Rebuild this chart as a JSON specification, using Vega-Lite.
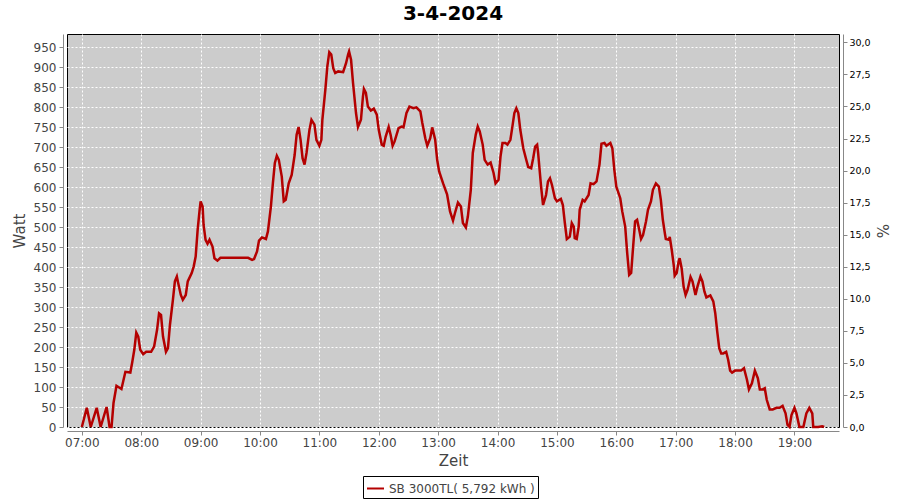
{
  "$schema": "https://vega.github.io/schema/vega-lite/v6.json",
  "autosize": "none",
  "width": 772,
  "height": 393,
  "padding": {"left": 67, "top": 34, "right": 61, "bottom": 73},
  "background": "#ffffff",
  "title": {"text": "3-4-2024", "font": "DejaVu Sans", "fontSize": 20, "fontWeight": "bold", "color": "#000000", "offset": 10, "anchor": "middle"},
  "config": {
    "locale": {"number": {"decimal": ",", "thousands": ".", "grouping": [3], "currency": ["", " €"]}},
    "view": {"stroke": "#000000", "strokeWidth": 1, "fill": "#cccccc"},
    "font": "DejaVu Sans",
    "axis": {"domainColor": "#888888", "tickColor": "#888888", "tickSize": 4, "labelColor": "#444444", "labelFont": "DejaVu Sans", "labelFontSize": 12, "titleFont": "DejaVu Sans", "titleFontSize": 15, "titleFontWeight": "normal", "titleColor": "#444444", "gridColor": "#ffffff", "gridDash": [2, 2], "gridWidth": 1, "gridOpacity": 1}
  },
  "layer": [
    {
      "data": {"values": [
        {"t": "2024-04-03T07:00:00", "w": 0},
        {"t": "2024-04-03T07:05:00", "w": 48},
        {"t": "2024-04-03T07:09:00", "w": 0},
        {"t": "2024-04-03T07:15:00", "w": 48},
        {"t": "2024-04-03T07:19:00", "w": 0},
        {"t": "2024-04-03T07:25:00", "w": 50},
        {"t": "2024-04-03T07:28:00", "w": 0},
        {"t": "2024-04-03T07:30:00", "w": 0},
        {"t": "2024-04-03T07:32:00", "w": 60},
        {"t": "2024-04-03T07:35:00", "w": 103},
        {"t": "2024-04-03T07:40:00", "w": 95},
        {"t": "2024-04-03T07:44:00", "w": 138},
        {"t": "2024-04-03T07:49:00", "w": 136},
        {"t": "2024-04-03T07:51:00", "w": 163},
        {"t": "2024-04-03T07:53:00", "w": 193},
        {"t": "2024-04-03T07:55:00", "w": 236},
        {"t": "2024-04-03T07:57:00", "w": 226},
        {"t": "2024-04-03T07:59:00", "w": 193},
        {"t": "2024-04-03T08:02:00", "w": 182},
        {"t": "2024-04-03T08:05:00", "w": 188},
        {"t": "2024-04-03T08:10:00", "w": 188},
        {"t": "2024-04-03T08:13:00", "w": 201},
        {"t": "2024-04-03T08:16:00", "w": 243},
        {"t": "2024-04-03T08:18:00", "w": 284},
        {"t": "2024-04-03T08:20:00", "w": 280},
        {"t": "2024-04-03T08:22:00", "w": 226},
        {"t": "2024-04-03T08:25:00", "w": 188},
        {"t": "2024-04-03T08:27:00", "w": 197},
        {"t": "2024-04-03T08:29:00", "w": 255},
        {"t": "2024-04-03T08:32:00", "w": 318},
        {"t": "2024-04-03T08:34:00", "w": 364},
        {"t": "2024-04-03T08:36:00", "w": 376},
        {"t": "2024-04-03T08:37:00", "w": 364},
        {"t": "2024-04-03T08:40:00", "w": 330},
        {"t": "2024-04-03T08:42:00", "w": 318},
        {"t": "2024-04-03T08:45:00", "w": 330},
        {"t": "2024-04-03T08:47:00", "w": 364},
        {"t": "2024-04-03T08:51:00", "w": 385},
        {"t": "2024-04-03T08:53:00", "w": 401},
        {"t": "2024-04-03T08:55:00", "w": 426},
        {"t": "2024-04-03T08:57:00", "w": 493},
        {"t": "2024-04-03T08:59:00", "w": 543},
        {"t": "2024-04-03T09:00:00", "w": 564},
        {"t": "2024-04-03T09:02:00", "w": 551},
        {"t": "2024-04-03T09:03:00", "w": 505},
        {"t": "2024-04-03T09:05:00", "w": 468},
        {"t": "2024-04-03T09:07:00", "w": 458},
        {"t": "2024-04-03T09:09:00", "w": 468},
        {"t": "2024-04-03T09:12:00", "w": 451},
        {"t": "2024-04-03T09:14:00", "w": 422},
        {"t": "2024-04-03T09:17:00", "w": 416},
        {"t": "2024-04-03T09:20:00", "w": 423},
        {"t": "2024-04-03T09:30:00", "w": 423},
        {"t": "2024-04-03T09:40:00", "w": 423},
        {"t": "2024-04-03T09:48:00", "w": 423},
        {"t": "2024-04-03T09:52:00", "w": 418},
        {"t": "2024-04-03T09:54:00", "w": 420},
        {"t": "2024-04-03T09:57:00", "w": 439},
        {"t": "2024-04-03T09:59:00", "w": 466},
        {"t": "2024-04-03T10:02:00", "w": 474},
        {"t": "2024-04-03T10:06:00", "w": 470},
        {"t": "2024-04-03T10:08:00", "w": 489},
        {"t": "2024-04-03T10:11:00", "w": 551},
        {"t": "2024-04-03T10:13:00", "w": 609},
        {"t": "2024-04-03T10:15:00", "w": 660},
        {"t": "2024-04-03T10:17:00", "w": 678},
        {"t": "2024-04-03T10:19:00", "w": 668},
        {"t": "2024-04-03T10:22:00", "w": 626},
        {"t": "2024-04-03T10:24:00", "w": 564},
        {"t": "2024-04-03T10:26:00", "w": 568},
        {"t": "2024-04-03T10:29:00", "w": 609},
        {"t": "2024-04-03T10:32:00", "w": 630},
        {"t": "2024-04-03T10:35:00", "w": 680},
        {"t": "2024-04-03T10:37:00", "w": 731},
        {"t": "2024-04-03T10:39:00", "w": 750},
        {"t": "2024-04-03T10:41:00", "w": 718},
        {"t": "2024-04-03T10:43:00", "w": 672},
        {"t": "2024-04-03T10:45:00", "w": 656},
        {"t": "2024-04-03T10:47:00", "w": 685},
        {"t": "2024-04-03T10:50:00", "w": 743},
        {"t": "2024-04-03T10:52:00", "w": 768},
        {"t": "2024-04-03T10:55:00", "w": 756},
        {"t": "2024-04-03T10:57:00", "w": 718},
        {"t": "2024-04-03T11:00:00", "w": 703},
        {"t": "2024-04-03T11:02:00", "w": 718},
        {"t": "2024-04-03T11:03:00", "w": 768},
        {"t": "2024-04-03T11:06:00", "w": 843},
        {"t": "2024-04-03T11:08:00", "w": 901},
        {"t": "2024-04-03T11:10:00", "w": 937},
        {"t": "2024-04-03T11:12:00", "w": 931},
        {"t": "2024-04-03T11:14:00", "w": 897},
        {"t": "2024-04-03T11:16:00", "w": 885},
        {"t": "2024-04-03T11:19:00", "w": 889},
        {"t": "2024-04-03T11:24:00", "w": 887},
        {"t": "2024-04-03T11:27:00", "w": 910},
        {"t": "2024-04-03T11:29:00", "w": 931},
        {"t": "2024-04-03T11:30:00", "w": 939},
        {"t": "2024-04-03T11:32:00", "w": 918},
        {"t": "2024-04-03T11:34:00", "w": 860},
        {"t": "2024-04-03T11:37:00", "w": 785},
        {"t": "2024-04-03T11:39:00", "w": 750},
        {"t": "2024-04-03T11:42:00", "w": 768},
        {"t": "2024-04-03T11:44:00", "w": 826},
        {"t": "2024-04-03T11:45:00", "w": 845},
        {"t": "2024-04-03T11:47:00", "w": 835},
        {"t": "2024-04-03T11:49:00", "w": 801},
        {"t": "2024-04-03T11:52:00", "w": 791},
        {"t": "2024-04-03T11:55:00", "w": 796},
        {"t": "2024-04-03T11:58:00", "w": 781},
        {"t": "2024-04-03T12:00:00", "w": 743},
        {"t": "2024-04-03T12:03:00", "w": 706},
        {"t": "2024-04-03T12:05:00", "w": 703},
        {"t": "2024-04-03T12:07:00", "w": 726},
        {"t": "2024-04-03T12:10:00", "w": 750},
        {"t": "2024-04-03T12:12:00", "w": 730},
        {"t": "2024-04-03T12:14:00", "w": 703},
        {"t": "2024-04-03T12:16:00", "w": 714},
        {"t": "2024-04-03T12:20:00", "w": 747},
        {"t": "2024-04-03T12:23:00", "w": 751},
        {"t": "2024-04-03T12:25:00", "w": 749},
        {"t": "2024-04-03T12:28:00", "w": 785},
        {"t": "2024-04-03T12:31:00", "w": 801},
        {"t": "2024-04-03T12:35:00", "w": 797},
        {"t": "2024-04-03T12:38:00", "w": 799},
        {"t": "2024-04-03T12:42:00", "w": 789},
        {"t": "2024-04-03T12:44:00", "w": 760},
        {"t": "2024-04-03T12:47:00", "w": 722},
        {"t": "2024-04-03T12:49:00", "w": 703},
        {"t": "2024-04-03T12:52:00", "w": 722},
        {"t": "2024-04-03T12:54:00", "w": 749},
        {"t": "2024-04-03T12:57:00", "w": 718},
        {"t": "2024-04-03T12:59:00", "w": 668},
        {"t": "2024-04-03T13:01:00", "w": 639},
        {"t": "2024-04-03T13:05:00", "w": 609},
        {"t": "2024-04-03T13:09:00", "w": 582},
        {"t": "2024-04-03T13:12:00", "w": 539},
        {"t": "2024-04-03T13:15:00", "w": 516},
        {"t": "2024-04-03T13:17:00", "w": 535},
        {"t": "2024-04-03T13:20:00", "w": 561},
        {"t": "2024-04-03T13:23:00", "w": 551},
        {"t": "2024-04-03T13:25:00", "w": 510},
        {"t": "2024-04-03T13:28:00", "w": 499},
        {"t": "2024-04-03T13:30:00", "w": 526},
        {"t": "2024-04-03T13:33:00", "w": 593},
        {"t": "2024-04-03T13:35:00", "w": 685},
        {"t": "2024-04-03T13:38:00", "w": 731},
        {"t": "2024-04-03T13:40:00", "w": 751},
        {"t": "2024-04-03T13:42:00", "w": 739},
        {"t": "2024-04-03T13:45:00", "w": 706},
        {"t": "2024-04-03T13:47:00", "w": 668},
        {"t": "2024-04-03T13:50:00", "w": 656},
        {"t": "2024-04-03T13:53:00", "w": 661},
        {"t": "2024-04-03T13:56:00", "w": 635},
        {"t": "2024-04-03T13:58:00", "w": 609},
        {"t": "2024-04-03T14:01:00", "w": 618},
        {"t": "2024-04-03T14:03:00", "w": 676},
        {"t": "2024-04-03T14:05:00", "w": 710},
        {"t": "2024-04-03T14:08:00", "w": 710},
        {"t": "2024-04-03T14:10:00", "w": 706},
        {"t": "2024-04-03T14:13:00", "w": 718},
        {"t": "2024-04-03T14:15:00", "w": 751},
        {"t": "2024-04-03T14:17:00", "w": 785},
        {"t": "2024-04-03T14:19:00", "w": 797},
        {"t": "2024-04-03T14:21:00", "w": 785},
        {"t": "2024-04-03T14:23:00", "w": 743},
        {"t": "2024-04-03T14:26:00", "w": 697},
        {"t": "2024-04-03T14:29:00", "w": 668},
        {"t": "2024-04-03T14:31:00", "w": 650},
        {"t": "2024-04-03T14:34:00", "w": 647},
        {"t": "2024-04-03T14:36:00", "w": 672},
        {"t": "2024-04-03T14:38:00", "w": 701},
        {"t": "2024-04-03T14:40:00", "w": 706},
        {"t": "2024-04-03T14:41:00", "w": 685},
        {"t": "2024-04-03T14:44:00", "w": 601},
        {"t": "2024-04-03T14:46:00", "w": 555},
        {"t": "2024-04-03T14:49:00", "w": 580},
        {"t": "2024-04-03T14:51:00", "w": 614},
        {"t": "2024-04-03T14:53:00", "w": 622},
        {"t": "2024-04-03T14:55:00", "w": 605},
        {"t": "2024-04-03T14:58:00", "w": 572},
        {"t": "2024-04-03T15:00:00", "w": 564},
        {"t": "2024-04-03T15:04:00", "w": 570},
        {"t": "2024-04-03T15:06:00", "w": 555},
        {"t": "2024-04-03T15:08:00", "w": 510},
        {"t": "2024-04-03T15:10:00", "w": 470},
        {"t": "2024-04-03T15:13:00", "w": 476},
        {"t": "2024-04-03T15:15:00", "w": 510},
        {"t": "2024-04-03T15:17:00", "w": 501},
        {"t": "2024-04-03T15:18:00", "w": 472},
        {"t": "2024-04-03T15:20:00", "w": 470},
        {"t": "2024-04-03T15:22:00", "w": 501},
        {"t": "2024-04-03T15:23:00", "w": 543},
        {"t": "2024-04-03T15:26:00", "w": 568},
        {"t": "2024-04-03T15:28:00", "w": 564},
        {"t": "2024-04-03T15:32:00", "w": 580},
        {"t": "2024-04-03T15:34:00", "w": 609},
        {"t": "2024-04-03T15:37:00", "w": 607},
        {"t": "2024-04-03T15:40:00", "w": 614},
        {"t": "2024-04-03T15:43:00", "w": 656},
        {"t": "2024-04-03T15:45:00", "w": 708},
        {"t": "2024-04-03T15:48:00", "w": 710},
        {"t": "2024-04-03T15:50:00", "w": 703},
        {"t": "2024-04-03T15:54:00", "w": 710},
        {"t": "2024-04-03T15:56:00", "w": 697},
        {"t": "2024-04-03T15:58:00", "w": 643},
        {"t": "2024-04-03T16:00:00", "w": 601},
        {"t": "2024-04-03T16:04:00", "w": 572},
        {"t": "2024-04-03T16:06:00", "w": 539},
        {"t": "2024-04-03T16:09:00", "w": 501},
        {"t": "2024-04-03T16:11:00", "w": 435},
        {"t": "2024-04-03T16:13:00", "w": 380},
        {"t": "2024-04-03T16:15:00", "w": 385},
        {"t": "2024-04-03T16:17:00", "w": 451},
        {"t": "2024-04-03T16:19:00", "w": 514},
        {"t": "2024-04-03T16:21:00", "w": 518},
        {"t": "2024-04-03T16:23:00", "w": 495},
        {"t": "2024-04-03T16:25:00", "w": 470},
        {"t": "2024-04-03T16:27:00", "w": 480},
        {"t": "2024-04-03T16:30:00", "w": 514},
        {"t": "2024-04-03T16:32:00", "w": 543},
        {"t": "2024-04-03T16:35:00", "w": 564},
        {"t": "2024-04-03T16:37:00", "w": 593},
        {"t": "2024-04-03T16:40:00", "w": 609},
        {"t": "2024-04-03T16:43:00", "w": 601},
        {"t": "2024-04-03T16:45:00", "w": 568},
        {"t": "2024-04-03T16:47:00", "w": 518},
        {"t": "2024-04-03T16:49:00", "w": 485},
        {"t": "2024-04-03T16:50:00", "w": 470},
        {"t": "2024-04-03T16:53:00", "w": 468},
        {"t": "2024-04-03T16:54:00", "w": 475},
        {"t": "2024-04-03T16:56:00", "w": 443},
        {"t": "2024-04-03T16:58:00", "w": 405},
        {"t": "2024-04-03T16:59:00", "w": 378},
        {"t": "2024-04-03T17:01:00", "w": 385},
        {"t": "2024-04-03T17:03:00", "w": 414},
        {"t": "2024-04-03T17:04:00", "w": 422},
        {"t": "2024-04-03T17:06:00", "w": 397},
        {"t": "2024-04-03T17:08:00", "w": 351},
        {"t": "2024-04-03T17:10:00", "w": 330},
        {"t": "2024-04-03T17:12:00", "w": 343},
        {"t": "2024-04-03T17:15:00", "w": 375},
        {"t": "2024-04-03T17:17:00", "w": 364},
        {"t": "2024-04-03T17:20:00", "w": 330},
        {"t": "2024-04-03T17:22:00", "w": 351},
        {"t": "2024-04-03T17:25:00", "w": 376},
        {"t": "2024-04-03T17:27:00", "w": 364},
        {"t": "2024-04-03T17:29:00", "w": 339},
        {"t": "2024-04-03T17:31:00", "w": 324},
        {"t": "2024-04-03T17:35:00", "w": 329},
        {"t": "2024-04-03T17:38:00", "w": 314},
        {"t": "2024-04-03T17:40:00", "w": 284},
        {"t": "2024-04-03T17:42:00", "w": 238},
        {"t": "2024-04-03T17:44:00", "w": 197},
        {"t": "2024-04-03T17:46:00", "w": 184},
        {"t": "2024-04-03T17:48:00", "w": 184},
        {"t": "2024-04-03T17:51:00", "w": 188},
        {"t": "2024-04-03T17:53:00", "w": 168},
        {"t": "2024-04-03T17:55:00", "w": 141},
        {"t": "2024-04-03T17:57:00", "w": 136},
        {"t": "2024-04-03T18:00:00", "w": 141},
        {"t": "2024-04-03T18:06:00", "w": 141},
        {"t": "2024-04-03T18:09:00", "w": 147},
        {"t": "2024-04-03T18:12:00", "w": 118},
        {"t": "2024-04-03T18:14:00", "w": 94},
        {"t": "2024-04-03T18:17:00", "w": 109},
        {"t": "2024-04-03T18:20:00", "w": 141},
        {"t": "2024-04-03T18:23:00", "w": 122},
        {"t": "2024-04-03T18:25:00", "w": 94},
        {"t": "2024-04-03T18:28:00", "w": 94},
        {"t": "2024-04-03T18:30:00", "w": 97},
        {"t": "2024-04-03T18:32:00", "w": 68},
        {"t": "2024-04-03T18:35:00", "w": 44},
        {"t": "2024-04-03T18:38:00", "w": 44},
        {"t": "2024-04-03T18:42:00", "w": 48},
        {"t": "2024-04-03T18:45:00", "w": 48},
        {"t": "2024-04-03T18:48:00", "w": 53},
        {"t": "2024-04-03T18:51:00", "w": 34},
        {"t": "2024-04-03T18:53:00", "w": 5},
        {"t": "2024-04-03T18:55:00", "w": 0},
        {"t": "2024-04-03T18:57:00", "w": 30},
        {"t": "2024-04-03T19:00:00", "w": 48},
        {"t": "2024-04-03T19:02:00", "w": 34},
        {"t": "2024-04-03T19:05:00", "w": 0},
        {"t": "2024-04-03T19:09:00", "w": 0},
        {"t": "2024-04-03T19:12:00", "w": 34},
        {"t": "2024-04-03T19:15:00", "w": 48},
        {"t": "2024-04-03T19:18:00", "w": 34},
        {"t": "2024-04-03T19:19:00", "w": 0},
        {"t": "2024-04-03T19:24:00", "w": 0},
        {"t": "2024-04-03T19:28:00", "w": 2},
        {"t": "2024-04-03T19:30:00", "w": 0}
      ]},
      "mark": {"type": "line", "strokeWidth": 2.5},
      "encoding": {
        "x": {"field": "t", "type": "temporal", "title": "Zeit",
          "scale": {"domain": ["2024-04-03T06:45:00", "2024-04-03T19:45:00"], "nice": false},
          "axis": {"format": "%H:%M", "tickCount": 13, "offset": 4, "grid": true, "labelPadding": 2, "titlePadding": 5, "labelFlush": false}},
        "y": {"field": "w", "type": "quantitative", "title": "Watt",
          "scale": {"domain": [0, 982.5], "nice": false},
          "axis": {"values": [0, 50, 100, 150, 200, 250, 300, 350, 400, 450, 500, 550, 600, 650, 700, 750, 800, 850, 900, 950], "offset": 4, "grid": true, "labelPadding": 3, "titlePadding": 6}},
        "color": {"datum": "SB 3000TL( 5,792 kWh )",
          "scale": {"range": ["#b40000"]},
          "legend": {"title": null, "orient": "none", "legendX": 296, "legendY": 442, "strokeColor": "#000000", "padding": 3, "symbolType": "stroke", "symbolSize": 289, "symbolStrokeWidth": 2, "labelFont": "DejaVu Sans", "labelFontSize": 12, "labelColor": "#444444", "labelOffset": 4}}
      }
    },
    {
      "data": {"values": [{"pct": 0}, {"pct": 30}]},
      "mark": {"type": "point", "opacity": 0},
      "encoding": {
        "y": {"field": "pct", "type": "quantitative", "title": "%",
          "scale": {"domain": [0, 30.65], "nice": false},
          "axis": {"orient": "right", "offset": 4, "grid": false, "values": [0, 2.5, 5, 7.5, 10, 12.5, 15, 17.5, 20, 22.5, 25, 27.5, 30], "format": ".1f", "labelFontSize": 9.5, "labelColor": "#000000", "labelPadding": 2, "titlePadding": 3}}
      }
    }
  ],
  "resolve": {"scale": {"y": "independent"}, "axis": {"y": "independent"}}
}
